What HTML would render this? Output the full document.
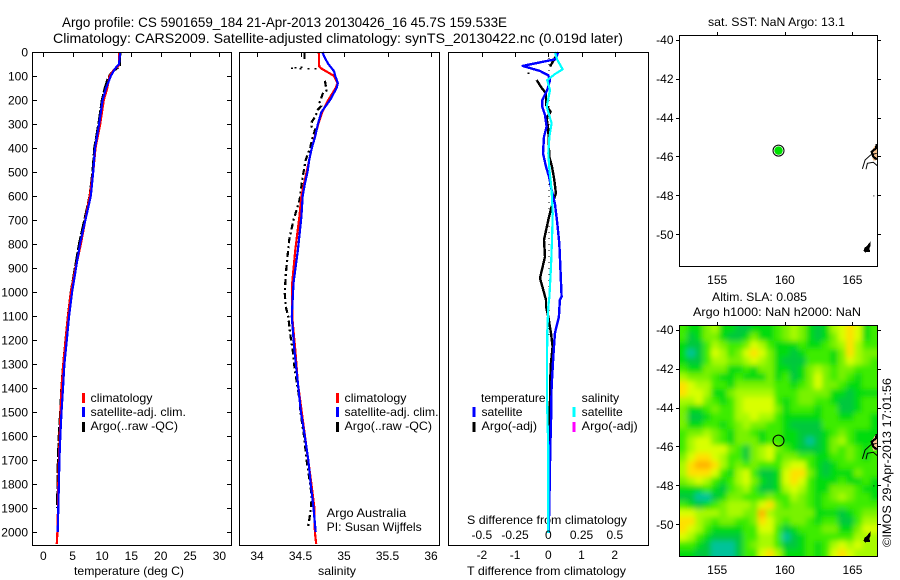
<!DOCTYPE html>
<html lang="en">
<head>
<meta charset="utf-8">
<title>Argo profile 5901659_184</title>
<style>
html,body{margin:0;padding:0;background:#fff;width:900px;height:580px;overflow:hidden}
svg{display:block;font-family:"Liberation Sans",sans-serif;font-size:12px;fill:#000}
text{fill:#000}
</style>
</head>
<body>
<svg id="chart" width="900" height="580" viewBox="0 0 900 580" xmlns="http://www.w3.org/2000/svg">
<defs>
<clipPath id="sla-clip"><rect x="679" y="325" width="199" height="232"/></clipPath>
<filter id="sla-soften" x="-10%" y="-10%" width="120%" height="120%"><feGaussianBlur stdDeviation="2.6"/></filter>
</defs>
<rect width="900" height="580" fill="#fff"/>
<text x="62" y="27" font-size="14" textLength="445" lengthAdjust="spacingAndGlyphs">Argo profile: CS 5901659_184 21-Apr-2013 20130426_16 45.7S 159.533E</text>
<text x="53" y="43" font-size="14" textLength="570" lengthAdjust="spacingAndGlyphs">Climatology: CARS2009. Satellite-adjusted climatology: synTS_20130422.nc (0.019d later)</text>

<text x="74" y="575" textLength="110" lengthAdjust="spacingAndGlyphs">temperature (deg C)</text>
<text x="318" y="575" textLength="38" lengthAdjust="spacingAndGlyphs">salinity</text>
<text x="467" y="575" textLength="159" lengthAdjust="spacingAndGlyphs">T difference from climatology</text>
<text x="467" y="524" textLength="160" lengthAdjust="spacingAndGlyphs">S difference from climatology</text>

<text x="708" y="26" textLength="137" lengthAdjust="spacingAndGlyphs">sat. SST: NaN Argo: 13.1</text>
<text x="712" y="301" textLength="95" lengthAdjust="spacingAndGlyphs">Altim. SLA: 0.085</text>
<text x="693" y="316" textLength="168" lengthAdjust="spacingAndGlyphs">Argo h1000: NaN h2000: NaN</text>
<text transform="translate(891,547) rotate(-90)" textLength="169" lengthAdjust="spacingAndGlyphs">©IMOS 29-Apr-2013 17:01:56</text>

<g id="layer"></g>

<g>
<rect x="82" y="393" width="3" height="10" fill="#ff0000"/>
<text x="90.5" y="402" textLength="62" lengthAdjust="spacingAndGlyphs">climatology</text>
<rect x="82" y="407" width="3" height="10" fill="#0000ff"/>
<text x="90.5" y="416" textLength="95.5" lengthAdjust="spacingAndGlyphs">satellite-adj. clim.</text>
<rect x="82" y="422" width="3" height="10" fill="#000"/>
<text x="90.5" y="430" textLength="87.5" lengthAdjust="spacingAndGlyphs">Argo(..raw -QC)</text>
</g>
<g>
<rect x="336" y="393" width="3" height="10" fill="#ff0000"/>
<text x="344.5" y="402" textLength="62" lengthAdjust="spacingAndGlyphs">climatology</text>
<rect x="336" y="407" width="3" height="10" fill="#0000ff"/>
<text x="344.5" y="416" textLength="94" lengthAdjust="spacingAndGlyphs">satellite-adj. clim.</text>
<rect x="336" y="422" width="3" height="10" fill="#000"/>
<text x="344.5" y="430" textLength="87.5" lengthAdjust="spacingAndGlyphs">Argo(..raw -QC)</text>
<text x="326.7" y="517" textLength="79.5" lengthAdjust="spacingAndGlyphs">Argo Australia</text>
<text x="326.7" y="531" textLength="95" lengthAdjust="spacingAndGlyphs">PI: Susan Wijffels</text>
</g>
<g>
<text x="481" y="402" textLength="64.5" lengthAdjust="spacingAndGlyphs">temperature</text>
<rect x="472.5" y="407" width="3" height="10" fill="#0000ff"/>
<text x="481.5" y="416" textLength="41" lengthAdjust="spacingAndGlyphs">satellite</text>
<rect x="472.5" y="422" width="3" height="10" fill="#000"/>
<text x="481.5" y="430" textLength="55.5" lengthAdjust="spacingAndGlyphs">Argo(-adj)</text>
<text x="581.7" y="402" textLength="37.5" lengthAdjust="spacingAndGlyphs">salinity</text>
<rect x="572.5" y="407" width="3" height="10" fill="#00ffff"/>
<text x="581.7" y="416" textLength="41" lengthAdjust="spacingAndGlyphs">satellite</text>
<rect x="572.5" y="422" width="3" height="10" fill="#ff00ff"/>
<text x="581.7" y="430" textLength="56" lengthAdjust="spacingAndGlyphs">Argo(-adj)</text>
</g>
</svg>
<script>
// ---- axis tick labels ----
var depthTicks = [0,100,200,300,400,500,600,700,800,900,1000,1100,1200,1300,1400,1500,1600,1700,1800,1900,2000];
var tempTicks = [0,5,10,15,20,25,30];
var salTicks = ['34','34.5','35','35.5','36'];
var diffTTicks = ['-2','-1','0','1','2'];
var diffSTicks = ['-0.5','-0.25','0','0.25','0.5'];
var latTicks = [-40,-42,-44,-46,-48,-50];
var lonTicks = [155,160,165];

// ---- temperature profiles ----
var tempSatDepth = [0,50,70,100,150,200,300,400,500,600,800,900,1000,1100,1200,1300,1400,1500,1600,1700,1800,1900,2000];
var tempSatValues = [13.1,12.9,12.2,11.5,10.7,10.1,9.5,8.8,8.5,8.1,6.25,5.57,4.9,4.4,4.0,3.6,3.35,3.1,2.9,2.75,2.65,2.55,2.45];
var tempClimDepth = [0,55,75,100,150,200,300,400,500,600,800,900,1000,1100,1200,1300,1400,1500,1600,1700,1800,1900,2000,2050];
var tempClimValues = [12.9,12.9,12.0,11.3,10.9,10.3,9.7,8.9,8.5,7.9,6.4,5.5,4.7,4.2,3.8,3.4,3.1,2.95,2.8,2.65,2.55,2.5,2.4,2.3];
var tempArgoDepth = [0,60,70,90,110,150,200,300,400,500,600,800,900,1000,1100,1200,1300,1400,1500,1600,1700,1800,1900];
var tempArgoValues = [13.1,13.0,12.4,11.5,11.0,10.5,10.0,9.4,8.7,8.4,7.9,6.1,5.4,4.7,4.2,3.8,3.4,3.1,2.9,2.65,2.5,2.45,2.35];

// ---- salinity profiles ----
var salSatDepth = [0,25,50,80,100,130,150,200,250,300,350,400,450,500,550,600,686,825,963,1103,1242,1381,1500,1600,1700,1800,1900,2000];
var salSatValues = [34.75,34.78,34.82,34.885,34.90,34.93,34.915,34.84,34.74,34.70,34.67,34.63,34.60,34.58,34.55,34.525,34.51,34.47,34.42,34.40,34.43,34.47,34.505,34.55,34.59,34.617,34.65,34.675];
var salClimDepth = [0,60,70,90,100,130,150,200,250,300,400,600,686,825,963,1103,1242,1381,1800,1900,2000,2050];
var salClimValues = [34.71,34.715,34.745,34.84,34.885,34.925,34.905,34.82,34.75,34.705,34.63,34.51,34.487,34.44,34.405,34.405,34.44,34.47,34.625,34.66,34.665,34.68];
var salArgoDepth = [5,40,null,120,160,170,210,225,240,270,290,310,320,370,400,450,533,617,700,783,853,929,1006,1061,1103,1172,1242,1311,1381,1450,1500,1600,1700,1800,1850,1900,1950,1980];
var salArgoValues = [34.545,34.545,null,34.78,34.80,34.76,34.72,34.74,34.70,34.67,34.63,34.625,34.67,34.63,34.61,34.56,34.52,34.49,34.42,34.37,34.35,34.33,34.32,34.33,34.36,34.38,34.41,34.43,34.46,34.49,34.5,34.54,34.57,34.61,34.63,34.62,34.60,34.585];
var salRawDotDepth = [66,64,62,68,68,68];
var salRawDotValues = [34.40,34.44,34.51,34.59,34.67,34.50];

// ---- differences from climatology ----
var diffTSatDepth = [0,30,58,79,97,117,158,200,228,262,311,353,422,478,519,575,631,714,797,922,1019,1033,1103,1172,1269,1394,1546,1644,1894,2005];
var diffTSatValues = [0.30,0.22,-0.77,-0.25,0,0.05,-0.03,-0.18,-0.18,-0.1,-0.05,-0.13,-0.16,-0.07,0.02,0.1,0.2,0.27,0.33,0.37,0.4,0.35,0.32,0.2,0.15,0.1,0.08,0.06,0.03,0.01];
var diffTArgoDepth = [5,30,61,null,117,150,172,221,249,275,325,436,478,533,589,644,700,783,853,942,992,1033,1061,1103,1172,1228,1311,1450,1533,2000];
var diffTArgoValues = [0.28,0.18,0.05,null,-0.35,-0.2,-0.07,-0.07,0.07,-0.05,0,0.03,0.11,0.18,0.23,0.1,0,-0.13,-0.1,-0.25,-0.15,-0.07,-0.07,0,0.08,0.13,0.07,0.05,0.03,0.01];
var diffSSatDepth = [0,33,72,92,117,158,228,297,353,422,490,575,672,783,894,1019,1061,1172,1450,1658,2005];
var diffSSatValues = [0.05,0.068,0.108,0.05,-0.008,0.013,-0.012,0.025,0.008,0,0.008,0.025,0.033,0.028,0.02,0.008,0,-0.008,-0.01,0,0];
var diffDotDepth = [88];
var diffDotValues = [-0.6];

// ---- float position and coastline (degrees) ----
var floatLon = 159.533;
var floatLat = -45.7;
var coastLineA = [[165.73,-46.64],[165.93,-46.18],[166.35,-45.92],[166.79,-45.84]];
var coastLineB = [[166.0,-46.66],[166.1,-46.35],[166.54,-46.30],[166.83,-46.47]];
var coastLand = [[166.35,-45.76],[166.79,-45.32],[166.83,-46.18],[166.54,-46.22]];
var coastDark = [[166.79,-45.36],[166.74,-45.58],[166.42,-45.76],[166.54,-46.01],[166.79,-46.15]];
var islandLand = [[165.85,-50.84],[165.95,-50.68],[166.05,-50.66],[166.29,-50.44],[166.30,-50.58],[166.22,-50.70],[166.25,-50.88],[165.95,-50.90]];
var rockLon = 166.54;
var rockLat = -48.0;

// ---- sea level anomaly, colour level per cell (north to south, west to east) ----
var slaRows = [
[3,2,2,4,5,2,2,1,1,2,2,2,3,4,5,4,2,1,2,5,6,7,6,2,3],
[3,1,2,4,4,2,1,1,2,4,2,2,3,4,5,4,2,1,2,4,6,7,6,2,3],
[2,1,1,3,5,4,3,3,4,6,5,3,2,2,2,3,2,2,3,4,5,7,5,3,3],
[2,0,1,3,6,5,3,4,6,7,6,4,2,2,1,2,3,3,3,2,4,7,5,4,4],
[2,1,1,3,5,5,4,4,5,6,5,4,2,1,1,1,3,3,3,2,4,6,5,4,3],
[3,2,2,4,4,4,2,2,3,2,4,4,2,2,1,2,4,5,4,3,4,4,3,3,3],
[5,4,4,4,3,2,2,3,2,2,2,4,2,3,1,2,4,6,4,3,4,3,2,3,3],
[7,6,5,5,3,3,2,4,4,4,4,4,3,3,2,3,4,6,4,4,3,2,2,3,3],
[7,6,6,5,2,2,4,5,5,5,5,5,3,3,3,4,4,4,4,2,2,1,2,2,2],
[5,5,6,4,3,2,3,5,6,6,6,6,3,2,3,4,4,3,3,2,1,1,2,3,3],
[4,2,2,3,4,3,3,5,6,6,6,6,4,2,3,3,3,2,3,3,1,1,2,3,3],
[4,1,1,2,3,3,3,5,5,6,5,5,3,2,2,2,2,2,3,3,2,2,3,3,2],
[4,2,2,3,3,2,3,4,5,4,4,3,3,2,1,1,1,1,3,3,3,3,3,3,2],
[3,4,4,5,4,3,2,4,4,3,2,3,3,2,2,1,1,1,2,3,4,3,2,2,2],
[3,5,6,6,4,3,2,4,4,4,2,3,3,2,2,1,0,1,2,4,5,3,2,2,2],
[3,5,6,6,6,6,4,3,1,4,5,6,4,3,2,1,1,1,2,4,3,4,3,2,3],
[4,6,7,7,6,5,3,3,1,4,5,6,3,4,4,3,3,2,2,3,3,4,3,2,3],
[5,7,8,8,7,5,3,4,3,4,3,3,3,5,6,6,3,2,1,2,3,3,3,3,3],
[5,7,7,7,6,3,2,5,6,3,1,1,2,6,7,7,4,2,1,2,2,2,4,3,3],
[4,5,6,5,3,2,3,5,6,4,2,1,2,6,7,6,3,2,2,2,3,2,2,3,2],
[2,2,2,3,2,1,3,4,5,3,1,1,2,5,6,5,3,2,2,4,4,4,3,2,2],
[1,1,0,0,1,2,4,4,3,3,3,4,3,3,5,4,3,2,3,4,5,4,3,3,2],
[3,2,1,2,3,4,5,5,5,4,6,7,4,3,4,4,3,2,3,3,3,3,3,3,3],
[6,6,5,5,5,4,5,5,4,4,8,5,4,4,4,4,4,2,2,2,1,2,3,4,4],
[7,7,5,4,3,4,4,3,3,4,7,6,4,3,4,4,3,2,3,3,1,1,3,5,5],
[7,6,5,3,2,2,2,2,3,3,6,6,3,1,2,3,3,3,4,4,2,2,4,6,6],
[6,5,3,2,1,1,1,1,3,3,5,5,3,0,1,2,3,3,3,3,3,3,5,5,5],
[3,3,2,1,0,0,0,1,3,4,5,5,3,1,1,2,3,2,3,5,6,5,6,5,5],
[2,2,1,1,0,0,0,1,3,3,6,7,5,2,2,2,3,2,3,6,7,6,5,5,5]
];
var slaPalette = ['#00c39a','#00c83c','#00dc10','#3cec00','#78f200','#a8fa00','#d8ff00','#ffe000','#ffb400'];

// ---- axis functions ----
var depthY = function(d){ return 52 + d * 0.24; };
var tempX = function(t){ return 43.3 + t * 5.87; };
var salX = function(s){ return 257 + (s - 34) * 87; };
var diffTX = function(t){ return 548.3 + t * 33.2; };
var diffSX = function(s){ return 548.3 + s * 133; };
var lonX = function(lon){ return 679.3 + (lon - 152.2) * 13.53; };
var latY = function(lat, off){ return off + 39.7 - (lat + 40) * 19.46; };

var NS = 'http://www.w3.org/2000/svg';
var layer = document.getElementById('layer');

function make(tag, name, attrs, parent){
  var el = document.createElementNS(NS, tag);
  
  
  for (var k in attrs) el.setAttribute(k, attrs[k]);
  (parent || layer).appendChild(el);
  return el;
}
function label(name, x, y, str, anchor){
  var t = make('text', name, {x:x, y:y, 'text-anchor':anchor || 'middle'});
  t.textContent = str;
  return t;
}
function tick(name, x1, y1, x2, y2){
  make('line', name, {x1:x1, y1:y1, x2:x2, y2:y2, stroke:'#000', 'stroke-width':1, 'shape-rendering':'crispEdges'});
}
function box(name, x1, y1, x2, y2){
  make('rect', name, {x:x1, y:y1, width:x2-x1, height:y2-y1, fill:'none', stroke:'#000', 'stroke-width':1, 'shape-rendering':'crispEdges'});
}
function profile(name, depths, values, xf, color, width, dash){
  var pts = [];
  function flush(){
    if (pts.length > 1) {
      var attrs = {points:pts.join(' '), fill:'none', stroke:color, 'stroke-width':width, 'shape-rendering':'crispEdges', 'stroke-linejoin':'round'};
      if (dash) attrs['stroke-dasharray'] = dash;
      make('polyline', name, attrs);
    }
    pts = [];
  }
  for (var i = 0; i < depths.length; i++) {
    if (depths[i] === null) { flush(); continue; }
    pts.push(xf(values[i]).toFixed(1) + ',' + depthY(depths[i]).toFixed(1));
  }
  flush();
}
function dots(name, depths, values, xf){
  for (var i = 0; i < depths.length; i++) {
    make('rect', name, {x:xf(values[i])-1, y:depthY(depths[i])-0.5, width:2, height:1.5, fill:'#000', 'shape-rendering':'crispEdges'});
  }
}

// ---- depth panels ----
function frame(prefix, x1, x2){
  box(prefix + '-axes-box', x1, 52.5, x2, 545.5);
}
// temperature
profile('temperature-argo-line', tempArgoDepth, tempArgoValues, tempX, '#000', 2.4, '14 2');
profile('temperature-climatology-line', tempClimDepth, tempClimValues, tempX, '#ff0000', 2.2);
profile('temperature-satellite-line', tempSatDepth, tempSatValues, tempX, '#0000ff', 2.2);
frame('temperature', 32.5, 231.5);
depthTicks.forEach(function(d){
  var y = Math.round(depthY(d)) + 0.5;
  label('depth-tick-label', 28, depthY(d) + 4.5, String(d), 'end');
  if (d > 0) {
    tick('depth-tick-left', 33, y, 37, y);
    tick('depth-tick-right', 227, y, 231, y);
  }
});
tempTicks.forEach(function(t){
  var x = Math.round(tempX(t)) + 0.5;
  tick('temperature-tick', x, 53, x, 57);
  label('temperature-tick-label', tempX(t), 560, String(t));
});
// salinity
profile('salinity-argo-line', salArgoDepth, salArgoValues, salX, '#000', 2.2, '6 3 2 3');
dots('salinity-raw-dot', salRawDotDepth, salRawDotValues, salX);
profile('salinity-climatology-line', salClimDepth, salClimValues, salX, '#ff0000', 2.2);
profile('salinity-satellite-line', salSatDepth, salSatValues, salX, '#0000ff', 2.2);
frame('salinity', 239.5, 439.5);
salTicks.forEach(function(s){
  var x = Math.round(salX(parseFloat(s))) + 0.5;
  tick('salinity-tick', x, 53, x, 57);
  label('salinity-tick-label', salX(parseFloat(s)), 560, s);
});
// differences
depthTicks.forEach(function(d){
  if (d <= 1100 && d % 100 === 0) {
    for (var k = 0; k < 4; k++) {
      make('rect', 'zero-difference-dot', {x:diffTX(0), y:depthY(d + k * 25), width:1, height:1, fill:'#000', 'shape-rendering':'crispEdges'});
    }
  }
});
profile('t-difference-argo-line', diffTArgoDepth, diffTArgoValues, diffTX, '#000', 2.4);
dots('t-difference-raw-dot', diffDotDepth, diffDotValues, diffTX);
profile('t-difference-satellite-line', diffTSatDepth, diffTSatValues, diffTX, '#0000ff', 2.4);
profile('s-difference-satellite-line', diffSSatDepth, diffSSatValues, diffSX, '#00ffff', 2.2);
frame('difference', 448.5, 648.5);
diffTTicks.forEach(function(t){
  var x = Math.round(diffTX(parseFloat(t))) + 0.5;
  tick('t-difference-tick', x, 53, x, 57);
  label('t-difference-tick-label', diffTX(parseFloat(t)), 559, t);
});
diffSTicks.forEach(function(s){
  label('s-difference-tick-label', diffSX(parseFloat(s)), 539, s);
});

// ---- maps ----
function overlay(prefix, off){
  function pts(list){
    return list.map(function(p){ return lonX(p[0]).toFixed(1) + ',' + latY(p[1], off).toFixed(1); }).join(' ');
  }
  make('polygon', prefix + '-land', {points:pts(coastLand), fill:'#f5c08e', 'shape-rendering':'crispEdges'});
  make('polyline', prefix + '-coast-west', {points:pts(coastLineA), fill:'none', stroke:'#000', 'stroke-width':1});
  make('polyline', prefix + '-coast-south', {points:pts(coastLineB), fill:'none', stroke:'#000', 'stroke-width':1});
  make('polyline', prefix + '-coast-dark', {points:pts(coastDark), fill:'none', stroke:'#000', 'stroke-width':2.2, 'shape-rendering':'crispEdges'});
  make('polygon', prefix + '-island', {points:pts(islandLand), fill:'#000', stroke:'#000', 'stroke-width':1, 'shape-rendering':'crispEdges'});
  make('rect', prefix + '-rock', {x:lonX(rockLon), y:latY(rockLat, off), width:1, height:1, fill:'#000'});
}
function mapAxes(prefix, top, bottom, off, lonLabelY){
  box(prefix + '-axes-box', 679.5, top + 0.5, 877.5, bottom + 0.5);
  latTicks.forEach(function(lat){
    var y = Math.round(latY(lat, off)) + 0.5;
    tick(prefix + '-lat-tick-left', 676, y, 679, y);
    tick(prefix + '-lat-tick-right', 878, y, 881, y);
    label(prefix + '-lat-tick-label', 673.5, latY(lat, off) + 4.5, String(lat), 'end');
  });
  lonTicks.forEach(function(lon){
    var x = Math.round(lonX(lon)) + 0.5;
    tick(prefix + '-lon-tick', x, top - 3, x, top);
    label(prefix + '-lon-tick-label', lonX(lon), lonLabelY, String(lon));
  });
}
// SST map
overlay('sst-map', 0);
make('circle', 'sst-float-ring', {cx:lonX(floatLon), cy:latY(floatLat, 0), r:5.5, fill:'#fff', stroke:'#000', 'stroke-width':1});
make('circle', 'sst-float-marker', {cx:lonX(floatLon), cy:latY(floatLat, 0), r:4.2, fill:'#00e100'});
mapAxes('sst-map', 35, 266, 0, 284);

// SLA heatmap
var heatClip = make('g', 'sla-heatmap-clip', {'clip-path':'url(#sla-clip)'});
var heatGroup = make('g', 'sla-heatmap', {filter:'url(#sla-soften)'}, heatClip);
var rowCount = slaRows.length;
var colCount = slaRows[0].length;
for (var r = 0; r < rowCount; r++) {
  for (var c = 0; c < colCount; c++) {
    // border cells run past the frame so the softening does not fade at the edges
    var x0 = c === 0 ? 664 : Math.round(679 + c * 198.5 / colCount);
    var x1 = c === colCount - 1 ? 893 : Math.round(679 + (c + 1) * 198.5 / colCount);
    var y0 = r === 0 ? 310 : Math.round(325 + r * 232 / rowCount);
    var y1 = r === rowCount - 1 ? 572 : Math.round(325 + (r + 1) * 232 / rowCount);
    var cell = document.createElementNS(NS, 'rect');
    
    
    cell.setAttribute('x', x0);
    cell.setAttribute('y', y0);
    cell.setAttribute('width', x1 - x0);
    cell.setAttribute('height', y1 - y0);
    cell.setAttribute('fill', slaPalette[slaRows[r][c]]);
    cell.setAttribute('shape-rendering', 'crispEdges');
    heatGroup.appendChild(cell);
  }
}
overlay('sla-map', 290);
make('circle', 'sla-float-marker', {cx:lonX(floatLon), cy:latY(floatLat, 290), r:5.5, fill:'none', stroke:'#000', 'stroke-width':1});
mapAxes('sla-map', 325, 556, 290, 574);
</script>
</body>
</html>
